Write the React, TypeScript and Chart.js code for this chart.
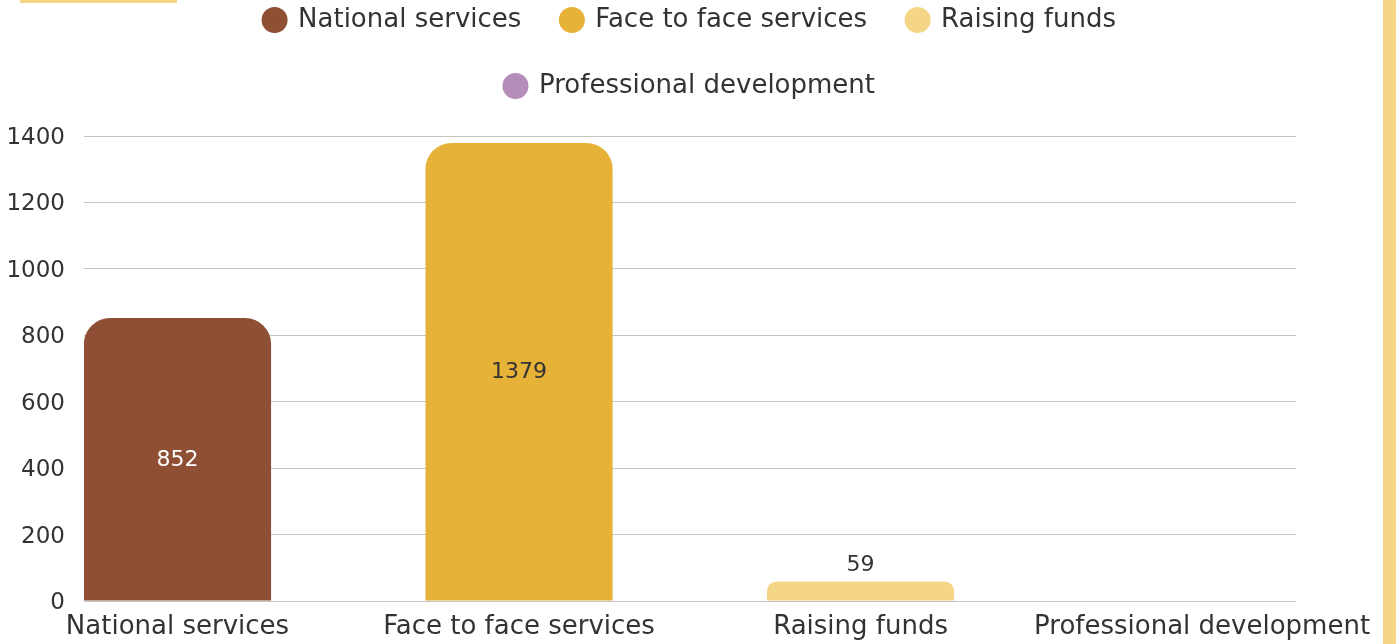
import { useEffect, useRef } from 'react';
import { Chart, registerables } from 'chart.js';

Chart.register(...registerables);

const categories = ['National services', 'Face to face services', 'Raising funds', 'Professional development'];
const values = [852, 1379, 59, 0];
const barColors = ['#8E4F35', '#E6B237', '#F5D687', '#B48DB8'];
const yTicks = [0, 200, 400, 600, 800, 1000, 1200, 1400];

const FONT = '"DejaVu Sans", "Noto Sans", sans-serif';
const TEXT = '#333333';

function isDark(hex: string) {
  const r = parseInt(hex.slice(1, 3), 16);
  const g = parseInt(hex.slice(3, 5), 16);
  const b = parseInt(hex.slice(5, 7), 16);
  return 0.299 * r + 0.587 * g + 0.114 * b < 140;
}

const valueLabels = {
  id: 'valueLabels',
  afterDatasetsDraw(chart: any) {
    const ctx = chart.ctx;
    const meta = chart.getDatasetMeta(0);
    ctx.save();
    ctx.font = `22px ${FONT}`;
    ctx.textAlign = 'center';
    ctx.textBaseline = 'middle';
    meta.data.forEach((bar: any, i: number) => {
      const v = values[i];
      if (!v) return;
      const { x, y, base } = bar.getProps(['x', 'y', 'base'], true);
      const h = base - y;
      if (h > 40) {
        ctx.fillStyle = isDark(barColors[i]) ? '#ffffff' : TEXT;
        ctx.fillText(String(v), x, (y + base) / 2 + 1);
      } else {
        ctx.fillStyle = TEXT;
        ctx.fillText(String(v), x, y - 16);
      }
    });
    ctx.restore();
  },
};

const legendGap = {
  id: 'legendGap',
  beforeLayout(chart: any) {
    const legend = chart.legend;
    if (legend && !legend.__gapped) {
      const orig = legend.fit;
      legend.fit = function () {
        orig.call(this);
        this.height += 27;
      };
      legend.__gapped = true;
    }
  },
};

export default function App() {
  const ref = useRef<HTMLCanvasElement | null>(null);

  useEffect(() => {
    document.body.style.margin = '0';
    const canvas = ref.current;
    if (!canvas) return;
    const chart = new Chart(canvas, {
      type: 'bar',
      data: {
        datasets: [
          {
            data: values.map((v, i) => ({ x: i, y: v })),
            backgroundColor: barColors,
            borderRadius: 26,
            borderSkipped: 'start',
            categoryPercentage: 0.8,
            barPercentage: 0.685,
          } as any,
        ],
      },
      options: {
        responsive: false,
        animation: false,
        layout: { padding: 0 },
        plugins: {
          tooltip: { enabled: false },
          legend: {
            position: 'top',
            fullSize: false,
            onClick: () => {},
            labels: {
              usePointStyle: true,
              pointStyle: 'circle',
              boxWidth: 21,
              boxHeight: 18.4,
              padding: 40,
              color: TEXT,
              font: { family: FONT, size: 26 },
              generateLabels: () =>
                categories.map((c, i) => ({
                  text: c,
                  fillStyle: barColors[i],
                  strokeStyle: barColors[i],
                  lineWidth: 0,
                  pointStyle: 'circle',
                  hidden: false,
                  index: i,
                  datasetIndex: 0,
                  fontColor: TEXT,
                })),
            },
          },
        },
        scales: {
          x: {
            type: 'linear',
            offset: false,
            min: -0.2738,
            max: 3.275,
            afterBuildTicks: (s: any) => {
              s.ticks = categories.map((_, i) => ({ value: i }));
            },
            afterFit: (s: any) => {
              s.paddingLeft = 0;
              s.paddingRight = 84;
              s.height = 43;
            },
            grid: { display: false, drawTicks: false },
            border: { display: false },
            ticks: {
              callback: (v: any) => categories[v] ?? '',
              color: TEXT,
              font: { family: FONT, size: 26 },
              padding: 11,
              maxRotation: 0,
              autoSkip: false,
            },
          },
          y: {
            min: 0,
            max: 1400,
            afterBuildTicks: (s: any) => {
              s.ticks = yTicks.map((v) => ({ value: v }));
            },
            afterFit: (s: any) => {
              s.width = 84;
            },
            grid: { color: '#c4c4c4', drawTicks: false },
            border: { display: false },
            ticks: {
              color: TEXT,
              font: { family: FONT, size: 23 },
              padding: 19,
              labelOffset: 2,
              callback: (v: any) => String(v),
            },
          },
        },
      } as any,
      plugins: [valueLabels, legendGap],
    });
    return () => chart.destroy();
  }, []);

  return (
    <div style={{ position: 'relative', width: 1396, height: 644, overflow: 'hidden', background: '#ffffff' }}>
      <div style={{ position: 'absolute', left: 20, top: 0, width: 157, height: 3, background: '#F5D687' }} />
      <div style={{ position: 'absolute', left: 1383, top: 0, width: 13, height: 644, background: '#F5D687' }} />
      <canvas ref={ref} width={1380} height={677} style={{ position: 'absolute', left: 0, top: -33 }} />
    </div>
  );
}
